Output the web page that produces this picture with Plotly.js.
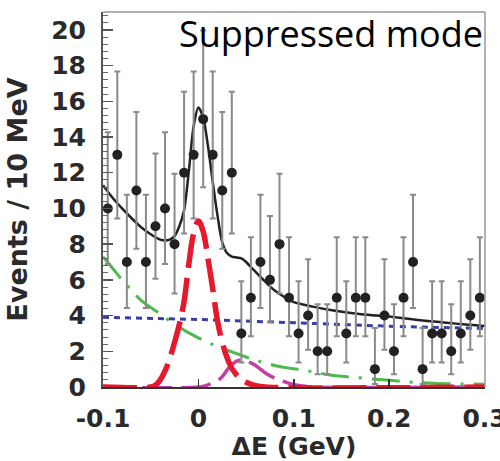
<!DOCTYPE html>
<html><head><meta charset="utf-8">
<script src="https://cdn.plot.ly/plotly-3.0.1.min.js"></script>
<style>html,body{margin:0;padding:0;background:#fff}#c{width:500px;height:461px}</style>
</head><body><div id="c"></div>
<script>
// Data points (bin centres, 10 MeV bins)
const binCenters = [-0.095,-0.085,-0.075,-0.065,-0.055,-0.045,-0.035,-0.025,-0.015,-0.005,
  0.005,0.015,0.025,0.035,0.045,0.055,0.065,0.075,0.085,0.095,
  0.105,0.115,0.125,0.135,0.145,0.155,0.165,0.175,0.185,0.195,
  0.205,0.215,0.225,0.235,0.245,0.255,0.265,0.275,0.285,0.295];
const counts = [10,13,7,11,7,9,10,8,12,13,
  15,13,11,12,3,5,7,6,8,5,
  3,4,2,2,5,3,5,5,1,4,
  2,5,7,1,3,3,2,3,4,5];
const errUp = [4.26,4.67,3.77,4.40,3.77,4.08,4.26,3.94,4.53,4.67,
  4.96,4.67,4.40,4.53,2.92,3.38,3.77,3.58,3.94,3.38,
  2.92,3.16,2.64,2.64,3.38,2.92,3.38,3.38,2.30,3.16,
  2.64,3.38,3.77,2.30,2.92,2.92,2.64,2.92,3.16,3.38];
const errDown = [3.11,3.56,2.58,3.26,2.58,2.94,3.11,2.77,3.41,3.56,
  3.82,3.56,3.26,3.41,1.63,2.16,2.58,2.38,2.77,2.16,
  1.63,1.91,1.29,1.29,2.16,1.63,2.16,2.16,0.83,1.91,
  1.29,2.16,2.58,0.83,1.63,1.63,1.29,1.63,1.91,2.16];

// Fit curves
const totalX = [-0.1,-0.09,-0.08,-0.07,-0.06,-0.05,-0.04,-0.035,-0.03,-0.025,-0.02,-0.015,-0.01,-0.005,0,0.005,0.01,0.015,0.02,0.025,0.03,0.035,0.04,0.045,0.05,0.055,0.06,0.07,0.08,0.09,0.1,0.12,0.14,0.16,0.18,0.2,0.22,0.24,0.26,0.28,0.3];
const totalY = [11.3,10.6,10.0,9.45,8.95,8.55,8.25,8.2,8.25,8.45,9.0,9.9,12.1,14.6,15.65,15.1,13.5,11.5,9.6,8.1,7.5,7.3,7.25,7.2,7.0,6.72,6.45,5.9,5.4,5.04,4.75,4.5,4.3,4.15,4.03,3.95,3.82,3.7,3.6,3.5,3.42];
const signalX = [-0.1,-0.05,-0.045,-0.04,-0.035,-0.03,-0.025,-0.02,-0.015,-0.01,-0.005,0,0.005,0.01,0.015,0.02,0.025,0.03,0.035,0.04,0.045,0.05,0.06,0.07,0.3];
const signalY = [0,0,0.1,0.4,0.9,1.6,2.5,3.5,4.8,6.9,8.6,9.3,8.7,7.2,5.5,3.7,2.5,1.65,1.05,0.68,0.42,0.26,0.08,0,0];
const magX = [-0.1,0,0.01,0.02,0.025,0.03,0.035,0.04,0.045,0.05,0.055,0.06,0.065,0.07,0.075,0.08,0.085,0.09,0.1,0.11,0.12,0.3];
const magY = [0,0,0.12,0.35,0.58,0.95,1.25,1.45,1.5,1.45,1.35,1.2,1.0,0.8,0.63,0.5,0.4,0.3,0.13,0.05,0,0];
const greenX = [-0.1,-0.09,-0.08,-0.07,-0.06,-0.05,-0.04,-0.03,-0.02,-0.01,0,0.01,0.02,0.03,0.04,0.05,0.06,0.07,0.08,0.09,0.1,0.11,0.12,0.13,0.14,0.15,0.16,0.18,0.2,0.22,0.24,0.26,0.28,0.3];
const greenY = [7.3,6.65,6.0,5.4,4.85,4.45,4.1,3.7,3.35,3.03,2.75,2.5,2.27,2.07,1.87,1.68,1.5,1.35,1.2,1.1,1.02,0.95,0.85,0.75,0.66,0.6,0.55,0.46,0.38,0.28,0.22,0.18,0.17,0.16];
const blueX = [-0.1,0,0.1,0.2,0.3];
const blueY = [3.9,3.78,3.6,3.4,3.28];

const xTickVals = [-0.1,0,0.1,0.2,0.3];
const xTickText = ['-0.1','0','0.1','0.2','0.3'];

const tickFont = {family:'DejaVu Sans', size:25, color:'#2a2a2a', weight:'bold'};

const traces = [
  {x:blueX, y:blueY, mode:'lines', line:{color:'#3c3ca8', width:3, dash:'6px,5px'}, hoverinfo:'skip'},
  {x:greenX, y:greenY, mode:'lines', line:{color:'#4cba4c', width:3, dash:'28px,10px,3px,10px', shape:'spline'}, hoverinfo:'skip'},
  {x:magX, y:magY, mode:'lines', line:{color:'#c23fa6', width:3.5, dash:'30px,9px', shape:'spline'}, hoverinfo:'skip'},
  {x:signalX, y:signalY, mode:'lines', line:{color:'#e8182c', width:5.5, dash:'34px,10px', shape:'spline'}, hoverinfo:'skip'},
  {x:totalX, y:totalY, mode:'lines', line:{color:'#222', width:2.5, shape:'spline', smoothing:0.8}, hoverinfo:'skip'},
  {x:binCenters, y:counts, mode:'markers', marker:{color:'#222', size:10},
   error_y:{type:'data', symmetric:false, array:errUp, arrayminus:errDown, color:'#8a8a8a', thickness:2, width:3}}
];

const layout = {
  width:500, height:461,
  margin:{l:103, r:15, t:12, b:74},
  paper_bgcolor:'#fff', plot_bgcolor:'#fff',
  showlegend:false,
  xaxis:{range:[-0.1,0.3004], tickvals:xTickVals, ticktext:xTickText, ticks:'inside', ticklen:8, tickwidth:1.5, tickcolor:'#333',
    showline:true, linecolor:'#333', linewidth:2, showgrid:false, zeroline:false, tickfont:tickFont, ticklabelstandoff:8,
    ticklabeloverflow:'allow',
    title:{text:'ΔE (GeV)', font:{family:'DejaVu Sans', size:25, color:'#2a2a2a', weight:'bold'}, standoff:13}},
  yaxis:{range:[0,21], dtick:2, tick0:0, ticks:'inside', ticklen:10, tickwidth:1.5, tickcolor:'#555',
    minor:{dtick:0.4, ticks:'inside', ticklen:5, tickcolor:'#666', tickwidth:1},
    showline:true, linecolor:'#555', linewidth:2, showgrid:false, zeroline:false, tickfont:tickFont, ticklabelstandoff:10,
    title:{text:'Events / 10 MeV', font:{family:'DejaVu Sans', size:27, color:'#2a2a2a', weight:'bold'}, standoff:16}},
  shapes:[
    {type:'line', xref:'paper', yref:'paper', x0:0, x1:1, y0:1, y1:1, line:{color:'#999', width:1.5}},
    {type:'line', xref:'paper', yref:'paper', x0:1, x1:1, y0:0, y1:1, line:{color:'#999', width:1.5}}
  ],
  annotations:[
    {text:'Suppressed mode', xref:'paper', yref:'paper', x:1, y:1, xanchor:'right', yanchor:'top', showarrow:false,
     font:{family:'Open Sans', size:36, color:'#000'}, bgcolor:'rgba(255,255,255,0)', borderpad:0, xshift:-1, yshift:4}
  ]
};

Plotly.newPlot('c', traces, layout, {displayModeBar:false, staticPlot:true});
</script></body></html>
